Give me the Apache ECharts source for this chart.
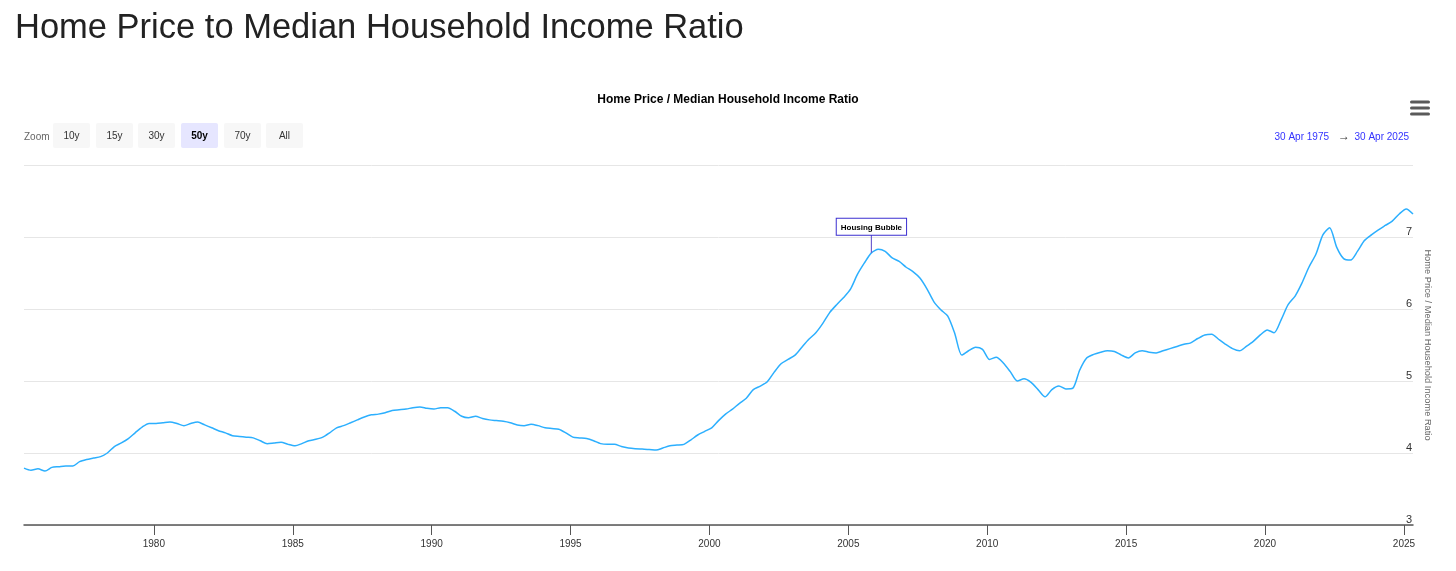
<!DOCTYPE html>
<html>
<head>
<meta charset="utf-8">
<script src="https://cdn.jsdelivr.net/npm/echarts@6/dist/echarts.min.js"></script>
<style>
html,body{margin:0;padding:0;background:#fff;}
#chart{width:1456px;height:571px;}
</style>
</head>
<body>
<div id="chart"></div>
<script>
// ---- Data (quarterly, end of month, starting 30 Apr 1975) ----
const startYear = 1975;
const startMonth = 4; // April
const ratioValues = [
 3.79,3.76,3.78,3.75,3.80,3.81,3.82,3.82,3.88,3.91,3.93,3.95,4.00,4.09,4.14,4.20,4.28,4.36,4.41,4.41,
 4.42,4.43,4.41,4.38,4.41,4.43,4.39,4.35,4.31,4.28,4.24,4.23,4.22,4.21,4.17,4.13,4.14,4.15,4.12,4.10,
 4.13,4.17,4.19,4.22,4.28,4.35,4.38,4.42,4.46,4.50,4.53,4.54,4.56,4.59,4.60,4.61,4.63,4.64,4.62,4.61,
 4.63,4.63,4.58,4.51,4.49,4.51,4.48,4.46,4.45,4.44,4.42,4.39,4.38,4.40,4.38,4.35,4.34,4.33,4.28,4.22,
 4.21,4.20,4.17,4.13,4.12,4.12,4.09,4.07,4.06,4.055,4.05,4.04,4.07,4.10,4.11,4.12,4.18,4.25,4.30,4.35,
 4.45,4.54,4.61,4.69,4.76,4.88,4.93,4.99,5.12,5.24,5.30,5.36,5.47,5.58,5.67,5.80,5.95,6.06,6.16,6.28,
 6.48,6.64,6.78,6.83,6.80,6.71,6.66,6.58,6.52,6.43,6.28,6.10,5.99,5.90,5.66,5.36,5.42,5.47,5.44,5.30,
 5.33,5.25,5.13,5.00,5.03,4.98,4.88,4.78,4.88,4.93,4.89,4.90,5.15,5.32,5.37,5.40,5.42,5.41,5.36,5.32,
 5.39,5.42,5.40,5.39,5.42,5.45,5.48,5.51,5.53,5.59,5.64,5.65,5.58,5.51,5.45,5.42,5.48,5.55,5.64,5.71,
 5.67,5.85,6.06,6.18,6.36,6.58,6.76,7.03,7.13,6.86,6.70,6.68,6.80,6.95,7.03,7.10,7.16,7.22,7.32,7.39,
 7.32
];
const xTickYears = [1980,1985,1990,1995,2000,2005,2010,2015,2020,2025];
const yTicks = [3,4,5,6,7,8];
const zoomButtons = ['10y','15y','30y','50y','70y','All'];
const selectedZoom = '50y';
const rangeFrom = '30 Apr 1975';
const rangeTo = '30 Apr 2025';
const annotationText = 'Housing Bubble';
const annotationIndex = 122; // Oct 2005

const pageTitle = 'Home Price to Median Household Income Ratio';
const chartTitle = 'Home Price / Median Household Income Ratio';
const yAxisName = 'Home Price / Median Household Income Ratio';

// ---- Build series ----
function monthEnd(i){ return Date.UTC(startYear, startMonth - 1 + 3*i + 1, 0); }
const seriesData = ratioValues.map((v,i)=>[monthEnd(i), v]);
const xMin = Date.UTC(1975,3,30);
const xMax = Date.UTC(2025,3,30);
const tickTimes = xTickYears.map(y=>Date.UTC(y,0,1));

const chart = echarts.init(document.getElementById('chart'), null, {renderer:'canvas'});
const font = '"Liberation Sans", Arial, Helvetica, sans-serif';

// zoom buttons graphics
const btnX = [53,96,138,181,224,266];
const graphics = [
  {type:'text', x:24, y:137, style:{text:'Zoom', fill:'#666', font:'10px '+font, verticalAlign:'middle'}}
];
zoomButtons.forEach((b,k)=>{
  const sel = b===selectedZoom;
  graphics.push({type:'rect', x:btnX[k], y:123, shape:{width:37,height:25,r:2},
    style:{fill: sel ? '#e6e6ff' : '#f7f7f7'}});
  graphics.push({type:'text', x:btnX[k]+18.5, y:136,
    style:{text:b, fill: sel ? '#000':'#333', font:(sel?'bold ':'')+'10px '+font, align:'center', verticalAlign:'middle'}});
});
graphics.push({type:'text', x:1329, y:137, style:{text:rangeFrom, fill:'#3333ff', font:'10px '+font, align:'right', verticalAlign:'middle'}});
graphics.push({type:'text', x:1344, y:137, style:{text:'\u2192', fill:'#333', font:'12px '+font, align:'center', verticalAlign:'middle'}});
graphics.push({type:'text', x:1409, y:137, style:{text:rangeTo, fill:'#3333ff', font:'10px '+font, align:'right', verticalAlign:'middle'}});
// hamburger menu
[102,108,114].forEach(yy=>{
  graphics.push({type:'rect', x:1410, y:yy-1.5, shape:{width:20,height:3,r:1.5}, style:{fill:'#5a5a5a'}});
});

chart.setOption({
  animation:false,
  backgroundColor:'#fff',
  title:[
    {text:pageTitle, left:10, top:6, textStyle:{fontSize:34.5, fontWeight:'normal', color:'#222', fontFamily:font}},
    {text:chartTitle, left:'center', top:89, textStyle:{fontSize:12, fontWeight:'bold', color:'#000', fontFamily:font}}
  ],
  graphic:graphics,
  grid:{left:24, right:43, top:165, bottom:46, containLabel:false},
  xAxis:{
    type:'value', min:xMin, max:xMax, scale:true,
    axisLine:{show:true, onZero:false, lineStyle:{color:'#555', width:1.5}},
    axisTick:{show:true, length:10, lineStyle:{color:'#555', width:1}, customValues:tickTimes},
    axisLabel:{customValues:tickTimes, formatter:(v)=>String(new Date(v).getUTCFullYear()),
      color:'#333', fontSize:10, margin:14, fontFamily:font},
    splitLine:{show:false}
  },
  yAxis:{
    type:'value', position:'right', min:3, max:8, interval:1,
    name:yAxisName, nameLocation:'middle', nameRotate:-90, nameGap:10,
    nameTextStyle:{color:'#666', fontSize:9.3, fontFamily:font},
    axisLine:{show:false}, axisTick:{show:false},
    axisLabel:{inside:true, margin:1, verticalAlign:'bottom', color:'#333', fontSize:11, fontFamily:font,
      formatter:(v)=> (yTicks.indexOf(v)>=0 && v!==8) ? String(v) : ''},
    splitLine:{show:true, lineStyle:{color:'#e6e6e6', width:1}}
  },
  series:[{
    type:'line', data:seriesData, showSymbol:false, symbol:'none', smooth:0.25,
    lineStyle:{color:'#2caffe', width:1.5},
    markPoint:{
      silent:true,
      data:[{coord:seriesData[annotationIndex], value:annotationText}],
      symbol:'rect', symbolSize:[1.2,18], symbolOffset:[0,-9],
      itemStyle:{color:'#6f5fcf'},
      label:{show:true, position:'top', distance:0, formatter:annotationText,
        fontSize:8, fontWeight:'bold', color:'#000', fontFamily:font,
        backgroundColor:'#fff', borderColor:'#3b2fd0', borderWidth:1, padding:[4,4,3,4], lineHeight:9}
    }
  }]
});
</script>
</body>
</html>
